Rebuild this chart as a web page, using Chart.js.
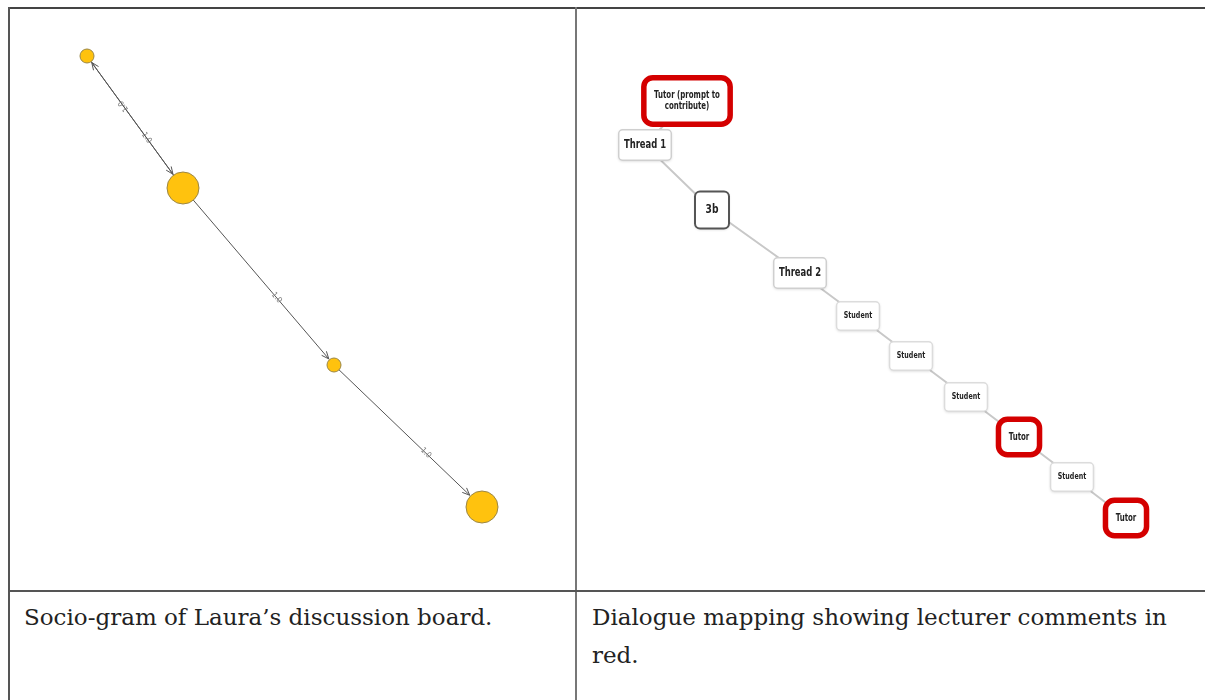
<!DOCTYPE html>
<html>
<head>
<meta charset="utf-8">
<script src="https://cdn.jsdelivr.net/npm/chart.js@4.4.1/dist/chart.umd.min.js"></script>
<style>
  html, body { margin: 0; padding: 0; background: #fff; overflow: hidden; }
  body { width: 1205px; height: 700px; position: relative; }
  .rule { position: absolute; background: #555; }
  .cell { position: absolute; }
  .caption {
    position: absolute;
    font-family: 'DejaVu Serif', 'Liberation Serif', serif;
    font-size: 23px;
    line-height: 38px;
    color: #222;
    white-space: nowrap;
  }
</style>
</head>
<body>
<div class="rule" style="left:8px; top:7px; width:1197px; height:2px; background:#444;"></div>
<div class="rule" style="left:8px; top:7px; width:2px; height:693px;"></div>
<div class="rule" style="left:575px; top:7px; width:2px; height:693px; background:#777;"></div>
<div class="rule" style="left:8px; top:590px; width:1197px; height:2px;"></div>

<div class="cell" style="left:10px; top:9px; width:565px; height:581px;"><canvas id="socioChart"></canvas></div>
<div class="cell" style="left:577px; top:9px; width:628px; height:581px;"><canvas id="mapChart"></canvas></div>

<div class="caption" style="left:24px; top:598px;">Socio-gram of Laura’s discussion board.</div>
<div class="caption" style="left:592px; top:598px;">Dialogue mapping showing lecturer comments in<br>red.</div>

<script>
// Socio-grama: nodos (posición en el panel) y tamaño
const socioX = [77, 173, 324, 472];
const socioY = [47, 179, 356, 498];
const socioSize = [7, 16, 7, 16];
// aristas dirigidas [origen, destino] y su peso
const socioEdges = [[0, 1], [1, 0], [1, 2], [2, 3]];
const socioWeights = ['1.0', '1.0', '1.0', '1.0'];

// Mapa de diálogo: nodos en orden de la conversación
const mapLabels = ['Tutor (prompt to|contribute)', 'Thread 1', '3b', 'Thread 2', 'Student', 'Student', 'Student', 'Tutor', 'Student', 'Tutor'];
const mapKinds = ['tutor', 'thread', 'topic', 'thread', 'student', 'student', 'student', 'tutor', 'student', 'tutor'];
const mapX = [110, 68, 135, 223, 281, 334, 389, 442, 495, 549];
const mapY = [92, 136, 201, 264, 307, 347, 388, 428, 468, 509];

Chart.defaults.animation = false;
Chart.defaults.events = [];
Chart.defaults.plugins.legend.display = false;
Chart.defaults.plugins.tooltip.enabled = false;

const NARROW = "'Liberation Sans Narrow', 'DejaVu Sans Condensed', 'Liberation Sans', sans-serif";
const CONDENSE = 0.78; // el texto del mapa es muy estrecho

// Dibuja las aristas con flechas y etiquetas debajo de los nodos
const edgePlugin = {
    id: 'edges',
    beforeDatasetsDraw(chart) {
        const ctx = chart.ctx;
        const xs = chart.scales.x, ys = chart.scales.y;
        ctx.save();
        socioEdges.forEach(([a, b], i) => {
            const x1 = xs.getPixelForValue(socioX[a]), y1 = ys.getPixelForValue(socioY[a]);
            const x2 = xs.getPixelForValue(socioX[b]), y2 = ys.getPixelForValue(socioY[b]);
            const ang = Math.atan2(y2 - y1, x2 - x1);
            const ex = x2 - Math.cos(ang) * (socioSize[b] + 1);
            const ey = y2 - Math.sin(ang) * (socioSize[b] + 1);
            ctx.strokeStyle = '#555555';
            ctx.lineWidth = 1;
            ctx.beginPath();
            ctx.moveTo(x1, y1);
            ctx.lineTo(ex, ey);
            ctx.stroke();
            // punta de flecha
            ctx.beginPath();
            ctx.moveTo(ex - Math.cos(ang - 0.4) * 8, ey - Math.sin(ang - 0.4) * 8);
            ctx.lineTo(ex, ey);
            ctx.lineTo(ex - Math.cos(ang + 0.4) * 8, ey - Math.sin(ang + 0.4) * 8);
            ctx.stroke();
            // etiqueta del peso
            const lx = x1 + (x2 - x1) * 0.62, ly = y1 + (y2 - y1) * 0.62;
            ctx.save();
            ctx.translate(lx, ly);
            ctx.rotate(ang);
            ctx.fillStyle = '#7a7a7a';
            ctx.font = '8px ' + NARROW;
            ctx.textAlign = 'center';
            ctx.textBaseline = 'middle';
            ctx.fillText(socioWeights[i], 0, 0);
            ctx.restore();
        });
        ctx.restore();
    }
};

new Chart(document.getElementById('socioChart'), {
    type: 'bubble',
    data: {
        datasets: [{
            data: socioX.map((x, i) => ({ x: x, y: socioY[i], r: socioSize[i] })),
            backgroundColor: '#ffc20e',
            borderColor: '#9a8646',
            borderWidth: 1,
            clip: false
        }]
    },
    options: {
        responsive: true,
        maintainAspectRatio: false,
        layout: { padding: 0, autoPadding: false },
        scales: {
            x: { type: 'linear', min: 0, max: 565, display: false },
            y: { type: 'linear', min: 0, max: 581, reverse: true, display: false }
        }
    },
    plugins: [edgePlugin]
});

// Estilos de caja por tipo de nodo
const boxStyles = {
    tutor:   { font: 'bold 10px ' + NARROW, lineH: 11, padX: 13, padY: 15, minW: 40, border: '#d40000', lw: 5.5, radius: 9, shadow: false },
    thread:  { font: 'bold 12px ' + NARROW, lineH: 14, padX: 6, padY: 9, minW: 48, border: '#cfcfcf', lw: 1.5, radius: 4, shadow: true },
    topic:   { font: 'bold 13px ' + NARROW, lineH: 15, padX: 10, padY: 12, minW: 36, border: '#555555', lw: 2, radius: 5, shadow: true },
    student: { font: 'bold 9px ' + NARROW, lineH: 10, padX: 8, padY: 10, minW: 42, border: '#dcdcdc', lw: 1.5, radius: 4, shadow: true }
};

function roundRect(ctx, x, y, w, h, r) {
    ctx.beginPath();
    ctx.moveTo(x + r, y);
    ctx.arcTo(x + w, y, x + w, y + h, r);
    ctx.arcTo(x + w, y + h, x, y + h, r);
    ctx.arcTo(x, y + h, x, y, r);
    ctx.arcTo(x, y, x + w, y, r);
    ctx.closePath();
}

const boxPlugin = {
    id: 'boxes',
    afterDatasetsDraw(chart) {
        const ctx = chart.ctx;
        const meta = chart.getDatasetMeta(0);
        ctx.save();
        meta.data.forEach((pt, i) => {
            const st = boxStyles[mapKinds[i]];
            const lines = mapLabels[i].split('|');
            ctx.font = st.font;
            const tw = Math.max(...lines.map(l => ctx.measureText(l).width)) * CONDENSE;
            const w = Math.max(st.minW, tw + st.padX * 2);
            const h = lines.length * st.lineH + st.padY * 2;
            const bx = pt.x - w / 2, by = pt.y - h / 2;
            ctx.save();
            if (st.shadow) {
                ctx.shadowColor = 'rgba(0,0,0,0.18)';
                ctx.shadowBlur = 3;
                ctx.shadowOffsetY = 1;
            }
            roundRect(ctx, bx + st.lw / 2, by + st.lw / 2, w - st.lw, h - st.lw, st.radius);
            ctx.fillStyle = '#ffffff';
            ctx.fill();
            ctx.restore();
            roundRect(ctx, bx + st.lw / 2, by + st.lw / 2, w - st.lw, h - st.lw, st.radius);
            ctx.strokeStyle = st.border;
            ctx.lineWidth = st.lw;
            ctx.stroke();
            ctx.fillStyle = '#222222';
            ctx.textAlign = 'center';
            ctx.textBaseline = 'middle';
            lines.forEach((l, k) => {
                ctx.save();
                ctx.translate(pt.x, pt.y + (k - (lines.length - 1) / 2) * st.lineH);
                ctx.scale(CONDENSE, 1);
                ctx.fillText(l, 0, 0);
                ctx.restore();
            });
        });
        ctx.restore();
    }
};

new Chart(document.getElementById('mapChart'), {
    type: 'scatter',
    data: {
        datasets: [{
            data: mapX.map((x, i) => ({ x: x, y: mapY[i] })),
            showLine: true,
            borderColor: '#c8c8c8',
            borderWidth: 2,
            pointRadius: 0,
            clip: false
        }]
    },
    options: {
        responsive: true,
        maintainAspectRatio: false,
        layout: { padding: 0, autoPadding: false },
        scales: {
            x: { type: 'linear', min: 0, max: 628, display: false },
            y: { type: 'linear', min: 0, max: 581, reverse: true, display: false }
        }
    },
    plugins: [boxPlugin]
});
</script>
</body>
</html>
